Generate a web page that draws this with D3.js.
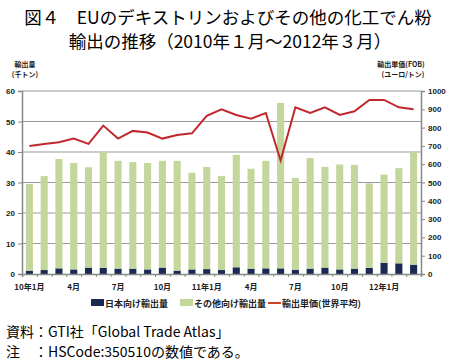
<!DOCTYPE html>
<html>
<head>
<meta charset="utf-8">
<script src="https://cdn.jsdelivr.net/npm/d3@7"></script>
<style>
body { margin: 0; background: #fff; }
svg { display: block; font-family: "Noto Sans CJK JP", "Noto Sans", sans-serif; }
.axis text { font-size: 8px; fill: #222; font-weight: bold; }
</style>
</head>
<body>
<div id="chart"></div>
<script>
// month labels (only some are shown on the axis)
const months = ["10年1月","2","3","4月","5","6","7月","8","9","10月","11","12",
	"11年1月","2","3","4月","5","6","7月","8","9","10月","11","12",
	"12年1月","2","3"];
const shownLabels = ["10年1月","4月","7月","10月","11年1月","12年1月"];
// thousand tons
const japan = [1.1,1.3,1.85,1.5,2.1,2.0,1.75,1.75,1.5,2.1,1.1,1.5,1.6,1.3,
	2.2,1.75,1.85,1.85,1.4,1.75,2.1,1.5,1.75,2.0,3.7,3.5,3.05];
const total = [29.5,32.1,37.7,36.4,35.0,40.0,37.1,36.7,36.4,37.1,37.1,33.2,35.1,32.1,
	39.05,34.5,37.1,56.1,31.5,38.0,35.1,35.9,35.8,29.7,32.6,34.7,40.0];
const others = total.map((t, i) => +(t - japan[i]).toFixed(2));
// euro / ton
const price = [700,711,720,740,711,811,740,782,773,740,760,769,864,900,
	869,849,880,620,911,880,911,869,889,951,951,911,900];

const W = 455, H = 363;
const margin = {top: 91, right: 34, bottom: 89, left: 22};
const width = W - margin.left - margin.right, height = H - margin.top - margin.bottom;

const svg = d3.select("#chart").append("svg")
	.attr("width", W).attr("height", H);

// title
svg.append("text").attr("x", 228).attr("y", 24).attr("text-anchor", "middle")
	.style("font-size", "17.5px").text("図４　EUのデキストリンおよびその他の化工でん粉");
svg.append("text").attr("x", 230).attr("y", 48).attr("text-anchor", "middle")
	.style("font-size", "17.5px").text("輸出の推移（2010年１月～2012年３月）");

// axis titles
function smallText(x, y, t) {
	svg.append("text").attr("x", x).attr("y", y).attr("text-anchor", "middle")
		.style("font-size", "7px").style("font-weight", "bold").style("fill", "#222")
		.text(t);
}
smallText(25, 67, "輸出量");
smallText(25, 77, "(千トン)");
smallText(401, 67, "輸出単価(FOB)");
smallText(403, 77, "(ユーロ/トン)");

const g = svg.append("g").attr("transform", "translate(" + margin.left + "," + margin.top + ")");

const x = d3.scaleBand().domain(d3.range(months.length)).range([0, width]).paddingInner(0.52).paddingOuter(0.26);
const yL = d3.scaleLinear().domain([0, 60]).range([height, 0]);
const yR = d3.scaleLinear().domain([0, 1000]).range([height, 0]);

// gridlines
g.append("g").selectAll("line").data(yL.ticks(6).filter(d => d > 0))
	.enter().append("line")
	.attr("x1", 0).attr("x2", width)
	.attr("y1", d => yL(d)).attr("y2", d => yL(d))
	.attr("stroke", "#9a9a9a").attr("stroke-width", 1.2);

// bars
g.append("g").selectAll("rect").data(japan).enter().append("rect")
	.attr("x", (d, i) => x(i)).attr("width", x.bandwidth())
	.attr("y", d => yL(d)).attr("height", d => height - yL(d))
	.attr("fill", "#1b2a52");
g.append("g").selectAll("rect").data(others).enter().append("rect")
	.attr("x", (d, i) => x(i)).attr("width", x.bandwidth())
	.attr("y", (d, i) => yL(d + japan[i])).attr("height", d => height - yL(d))
	.attr("fill", "#c3d69b");

// price line
const line = d3.line()
	.x((d, i) => x(i) + x.bandwidth() / 2)
	.y(d => yR(d));
g.append("path").datum(price)
	.attr("d", line).attr("fill", "none")
	.attr("stroke", "#c0282d").attr("stroke-width", 2);

// axes
const axL = g.append("g").attr("class", "axis")
	.call(d3.axisLeft(yL).ticks(6).tickSize(4).tickPadding(3));
const axR = g.append("g").attr("class", "axis").attr("transform", "translate(" + width + ",0)")
	.call(d3.axisRight(yR).ticks(10).tickSize(4).tickPadding(3).tickFormat(d3.format("d")));
[axL, axR].forEach(a => {
	a.select(".domain").attr("stroke", "#888").attr("stroke-width", 1.5);
	a.selectAll(".tick line").attr("stroke", "#888");
});

// bottom axis: ticks at month boundaries, labels centred under bars
const xb = d3.scaleLinear().domain([0, months.length]).range([0, width]);
const axB = g.append("g").attr("class", "axis").attr("transform", "translate(0," + height + ")")
	.call(d3.axisBottom(xb).tickValues(d3.range(months.length + 1)).tickSize(3).tickFormat(""));
axB.select(".domain").attr("stroke", "#888").attr("stroke-width", 1.5);
axB.selectAll(".tick line").attr("stroke", "#888");

const labelIdx = months.map((m, i) => shownLabels.includes(m) ? i : -1).filter(i => i >= 0);
g.append("g").selectAll("text").data(labelIdx)
	.enter().append("text")
	.attr("x", i => x(i) + x.bandwidth() / 2).attr("y", height + 16)
	.attr("text-anchor", "middle")
	.style("font-size", "8px").style("font-weight", "bold").style("fill", "#222")
	.text(i => months[i]);

// legend
const legend = [
	{name: "日本向け輸出量", color: "#1b2a52", type: "rect", x: 91},
	{name: "その他向け輸出量", color: "#c3d69b", type: "rect", x: 180},
	{name: "輸出単価(世界平均)", color: "#c8452d", type: "line", x: 268}
];
const lg = svg.append("g").selectAll("g").data(legend).enter().append("g")
	.attr("transform", d => "translate(" + d.x + ",303)");
lg.filter(d => d.type === "rect").append("rect")
	.attr("x", 0).attr("y", -4).attr("width", 13).attr("height", 7).attr("fill", d => d.color);
lg.filter(d => d.type === "line").append("line")
	.attr("x1", 0).attr("x2", 13).attr("y1", 0).attr("y2", 0)
	.attr("stroke", d => d.color).attr("stroke-width", 2);
lg.append("text").attr("x", 14).attr("y", 3.5)
	.style("font-size", "9px").style("font-weight", "bold").style("fill", "#222")
	.text(d => d.name);

// notes
svg.append("text").attr("x", 6).attr("y", 337).style("font-size", "14px").text("資料：GTI社「Global Trade Atlas」");
svg.append("text").attr("x", 6).attr("y", 357).style("font-size", "14px").text("注　：HSCode:350510の数値である。");
</script>
</body>
</html>
